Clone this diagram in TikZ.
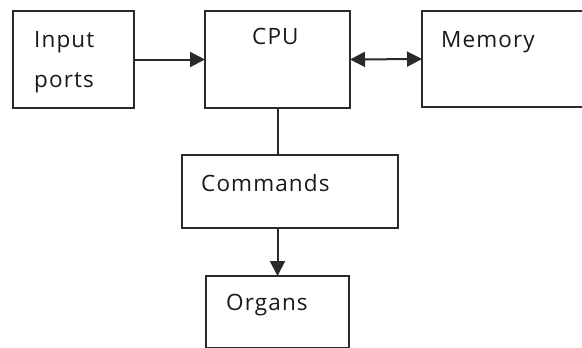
\documentclass[tikz,border=0pt]{standalone}
\usepackage{fontspec}
\setmainfont[LetterSpace=5]{Open Sans}
\usetikzlibrary{arrows.meta}
\definecolor{ink}{HTML}{2A2A2A}
\begin{document}
\begin{tikzpicture}[x=1pt,y=-1pt,
  box/.style={draw=ink,line width=2.2pt,rectangle,inner sep=0pt,outer sep=0pt},
  lbl/.style={anchor=base west,inner sep=0pt,font=\fontsize{22.5}{26}\selectfont,text=black!90},
  link/.style={draw=ink,line width=2pt},
  arr/.tip={Triangle[length=15pt,width=15pt]},
  tip/.style={-arr}]
\useasboundingbox (0,0) rectangle (582,348);
\fill[white] (0,0) rectangle (582,348);
\node[box,minimum width=121pt,minimum height=97pt] (in) at (73.5,59.5) {};
\node[box,minimum width=145pt,minimum height=97pt] (cpu) at (277.5,59.5) {};
\node[box,minimum width=170pt,minimum height=96pt] (mem) at (507,59) {};
\node[box,minimum width=216pt,minimum height=73pt] (cmd) at (290,191.5) {};
\node[box,minimum width=143pt,minimum height=72pt] (org) at (277.5,312) {};
\node[lbl] (tin) at (34,47) {Input};
\node[lbl] (tports) at (34,87) {ports};
\node[lbl] (tcpu) at (252,45) {CPU};
\node[lbl] (tmem) at (441,47) {Memory};
\node[lbl] (tcmd) at (201,191) {Commands};
\node[lbl] (torg) at (226,310) {Organs};
\draw[link,tip] (in) -- (cpu);
\draw[link,arr-arr] (cpu.east) -- (mem.west);
\draw[link] (cpu.south) -- (cmd.north -| cpu.south);
\draw[link,tip] (cmd.south -| org.north) -- (org.north);
\end{tikzpicture}
\end{document}
